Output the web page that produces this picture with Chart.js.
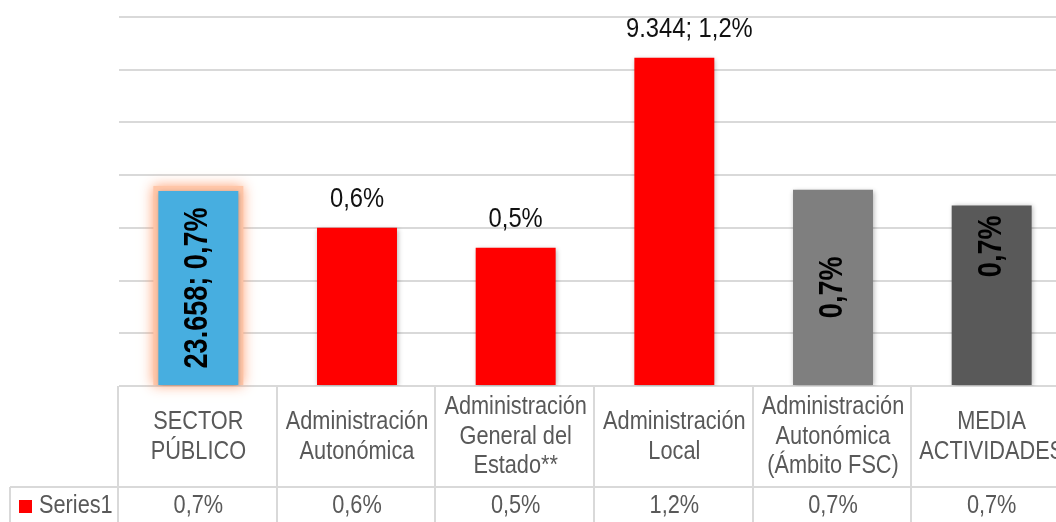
<!DOCTYPE html>
<html>
<head>
<meta charset="utf-8">
<script src="https://cdn.jsdelivr.net/npm/chart.js@4/dist/chart.umd.min.js"></script>
<style>
  html, body { margin: 0; padding: 0; overflow: hidden; background: #fff; }
  #wrap { width: 1072px; height: 522px; }
</style>
</head>
<body>
<div id="wrap"><canvas id="chart_sector"></canvas></div>
<script>
// data
var categories = [
    ['SECTOR', 'PÚBLICO'],
    ['Administración', 'Autonómica'],
    ['Administración', 'General del', 'Estado**'],
    ['Administración', 'Local'],
    ['Administración', 'Autonómica', '(Ámbito FSC)'],
    ['MEDIA', 'ACTIVIDADES']
];
var values = [0.74, 0.60, 0.525, 1.245, 0.745, 0.685];
var counts = [23658, null, null, 9344, null, null];
var seriesName = 'Series1';

var barColors = ['#47aee0', '#ff0000', '#ff0000', '#ff0000', '#7f7f7f', '#595959'];
var labelPlacement = ['center', 'above', 'above', 'above', 'center', 'end'];
var labelShift = [0, 0, 0, 15, 0, 0];

function pct(v) {
    return v.toFixed(1).replace('.', ',') + '%';
}
function thousands(n) {
    return String(n).replace(/\B(?=(\d{3})+(?!\d))/g, '.');
}
function labelText(i) {
    return counts[i] != null ? thousands(counts[i]) + '; ' + pct(values[i]) : pct(values[i]);
}

function drawText(ctx, text, x, y, size, weight, sx, align, rot, color) {
    ctx.save();
    ctx.translate(x, y);
    if (rot) ctx.rotate(rot);
    ctx.scale(sx, 1);
    ctx.font = weight + ' ' + size + 'px "Liberation Sans", Arial, sans-serif';
    ctx.fillStyle = color;
    ctx.textAlign = align;
    ctx.textBaseline = 'middle';
    ctx.fillText(text, 0, 0);
    ctx.restore();
}

var chart_sector = new Chart(document.getElementById('chart_sector'), {
    type: 'bar',
    data: {
        labels: categories,
        datasets: [{
            label: seriesName,
            data: values,
            backgroundColor: barColors,
            borderWidth: 0,
            barPercentage: 0.504,
            categoryPercentage: 1
        }]
    },
    options: {
        animation: false,
        responsive: true,
        maintainAspectRatio: false,
        layout: { padding: { left: 119, right: 1, top: 17, bottom: 136 } },
        plugins: {
            legend: { display: false },
            tooltip: { enabled: false }
        },
        scales: {
            x: { display: false },
            y: {
                min: 0,
                max: 1.4,
                ticks: { display: false, stepSize: 0.2 },
                grid: { color: '#d9d9d9', lineWidth: 2, drawTicks: false },
                border: { display: false },
                afterFit: function (s) { s.width = 0; }
            }
        }
    },
    plugins: [{
        id: 'barEffects',
        beforeDatasetsDraw: function (chart) {
            var ctx = chart.ctx;
            var bar = chart.getDatasetMeta(0).data[0];
            // orange glow round the first bar
            ctx.save();
            ctx.shadowColor = 'rgba(255,150,100,0.9)';
            ctx.shadowBlur = 12;
            ctx.fillStyle = '#ffc6a8';
            ctx.fillRect(bar.x - bar.width / 2 - 5, bar.y - 5, bar.width + 10, bar.base - bar.y + 5);
            ctx.restore();
            ctx.save();
            ctx.shadowColor = 'rgba(0,0,0,0.3)';
            ctx.shadowBlur = 5;
            ctx.shadowOffsetX = 1;
            ctx.shadowOffsetY = 1;
        },
        afterDatasetsDraw: function (chart) {
            var ctx = chart.ctx;
            ctx.restore();
            var meta = chart.getDatasetMeta(0);
            meta.data.forEach(function (bar, i) {
                var t = labelText(i);
                var x = bar.x + labelShift[i];
                if (labelPlacement[i] === 'above') {
                    drawText(ctx, t, x, bar.y - 28, 27, 'normal', 0.88, 'center', 0, '#111');
                } else if (labelPlacement[i] === 'center') {
                    drawText(ctx, t, x, (bar.y + bar.base) / 2, 33, 'bold', 0.82, 'center', -Math.PI / 2, '#000');
                } else {
                    drawText(ctx, t, x, bar.y + 10, 33, 'bold', 0.82, 'right', -Math.PI / 2, '#000');
                }
            });
        },
        afterDraw: function (chart) {
            // data table under the axis
            var ctx = chart.ctx;
            var xs = chart.scales.x;
            var area = chart.chartArea;
            var half = (xs.getPixelForValue(1) - xs.getPixelForValue(0)) / 2;
            var rowTop = area.bottom;
            var rowMid = 487;
            var bottom = chart.height;
            ctx.save();
            ctx.strokeStyle = '#d9d9d9';
            ctx.lineWidth = 2;
            ctx.beginPath();
            for (var i = 0; i <= categories.length; i++) {
                var bx = Math.round(xs.getPixelForValue(0) - half + i * 2 * half) - 1;
                ctx.moveTo(bx, rowTop);
                ctx.lineTo(bx, bottom);
            }
            ctx.moveTo(10, rowMid);
            ctx.lineTo(chart.width, rowMid);
            ctx.moveTo(10, rowMid);
            ctx.lineTo(10, bottom);
            ctx.stroke();
            ctx.restore();

            var cy = (rowTop + rowMid) / 2;
            categories.forEach(function (lines, i) {
                var cx = xs.getPixelForValue(i);
                lines.forEach(function (ln, k) {
                    var y = cy + (k - (lines.length - 1) / 2) * 29.5;
                    drawText(ctx, ln, cx, y, 26.5, 'normal', 0.82, 'center', 0, '#595959');
                });
                drawText(ctx, pct(values[i]), cx, 506, 26.5, 'normal', 0.82, 'center', 0, '#595959');
            });
            ctx.fillStyle = '#ff0000';
            ctx.fillRect(19, 500, 13, 13);
            drawText(ctx, seriesName, 39, 506, 26.5, 'normal', 0.82, 'left', 0, '#595959');
        }
    }]
});
</script>
</body>
</html>
